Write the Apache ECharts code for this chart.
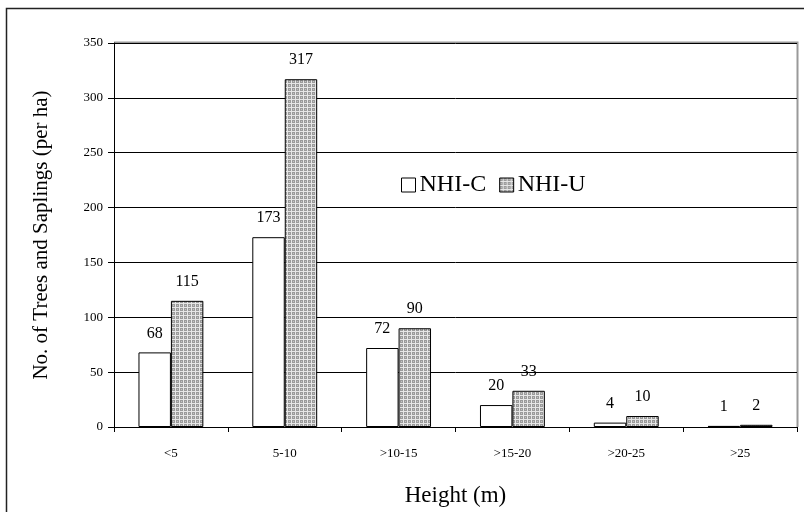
<!DOCTYPE html>
<html><head><meta charset="utf-8">
<script src="https://cdn.jsdelivr.net/npm/echarts@6/dist/echarts.min.js"></script>
<style>html,body{margin:0;padding:0;background:#fff}#c{width:804px;height:512px}</style>
</head><body><div id="c"></div>
<script>
var categories = ['<5', '5-10', '>10-15', '>15-20', '>20-25', '>25'];
var nhiC = [68, 173, 72, 20, 4, 1];
var nhiU = [115, 317, 90, 33, 10, 2];
var yTicks = { min: 0, max: 350, interval: 50 };

function makePattern() {
  var c = document.createElement('canvas');
  c.width = 4; c.height = 4;
  var g = c.getContext('2d');
  g.fillStyle = '#9a9a9a'; g.fillRect(0, 0, 4, 4);
  g.fillStyle = '#e6e6e6'; g.fillRect(0, 3, 4, 1); g.fillRect(3, 0, 1, 4);
  g.fillStyle = '#c4c4c4'; g.fillRect(1, 1, 1, 1);
  return c;
}
var pat = { image: makePattern(), repeat: 'repeat' };
var font = '"Liberation Serif", "DejaVu Serif", serif';

var chart = echarts.init(document.getElementById('c'), null, { renderer: 'canvas' });
chart.setOption({
  animation: false,
  backgroundColor: '#fff',
  graphic: [{
    type: 'rect', shape: { x: 6.5, y: 8.5, width: 820, height: 520 },
    style: { fill: 'none', stroke: '#222', lineWidth: 1.5 }, silent: true, z: -1
  }, {
    type: 'polyline', shape: { points: [[114, 42.5], [797.5, 42.5], [797.5, 427]] },
    style: { fill: 'none', stroke: '#999', lineWidth: 2 }, silent: true, z: -1
  }],
  textStyle: { fontFamily: font, color: '#000' },
  grid: { left: 114, right: 7, top: 43, bottom: 85, containLabel: false, outerBoundsMode: 'none' },
  legend: {
    left: 396, top: 168, itemWidth: 14, itemHeight: 14, itemGap: 13, icon: 'rect',
    textStyle: { fontFamily: font, fontSize: 24, color: '#000', padding: [0, 0, 0, -1] },
    data: [
      { name: 'NHI-C', itemStyle: { color: '#fff', borderColor: '#000', borderWidth: 1 } },
      { name: 'NHI-U', itemStyle: { color: pat, borderColor: '#000', borderWidth: 1 } }
    ]
  },
  xAxis: {
    type: 'category', data: categories,
    name: 'Height (m)', nameLocation: 'middle', nameGap: 57,
    nameTextStyle: { fontFamily: font, fontSize: 23, color: '#000' },
    axisLine: { lineStyle: { color: '#000', width: 1 } },
    axisTick: { show: true, alignWithLabel: false, length: 5, lineStyle: { color: '#000' } },
    axisLabel: { fontFamily: font, fontSize: 13, color: '#000', margin: 20 }
  },
  yAxis: {
    type: 'value', min: yTicks.min, max: yTicks.max, interval: yTicks.interval,
    name: 'No. of Trees and Saplings (per ha)', nameLocation: 'middle', nameGap: 62,
    nameTextStyle: { fontFamily: font, fontSize: 21, color: '#000' },
    axisLine: { show: true, lineStyle: { color: '#000', width: 1 } },
    axisTick: { show: true, length: 6, lineStyle: { color: '#000' } },
    axisLabel: { fontFamily: font, fontSize: 13, color: '#000', margin: 11 },
    splitLine: { show: true, lineStyle: { color: '#000', width: 1 } }
  },
  series: [{
    name: 'NHI-C', type: 'bar', data: nhiC,
    barGap: '0%', barCategoryGap: '43%',
    itemStyle: { color: '#fff', borderColor: '#000', borderWidth: 1 },
    label: { show: true, position: 'top', distance: 11, fontFamily: font, fontSize: 16, color: '#000' }
  }, {
    name: 'NHI-U', type: 'bar', data: nhiU,
    itemStyle: { color: pat, borderColor: '#000', borderWidth: 1 },
    label: { show: true, position: 'top', distance: 11, fontFamily: font, fontSize: 16, color: '#000' }
  }]
});
</script></body></html>
